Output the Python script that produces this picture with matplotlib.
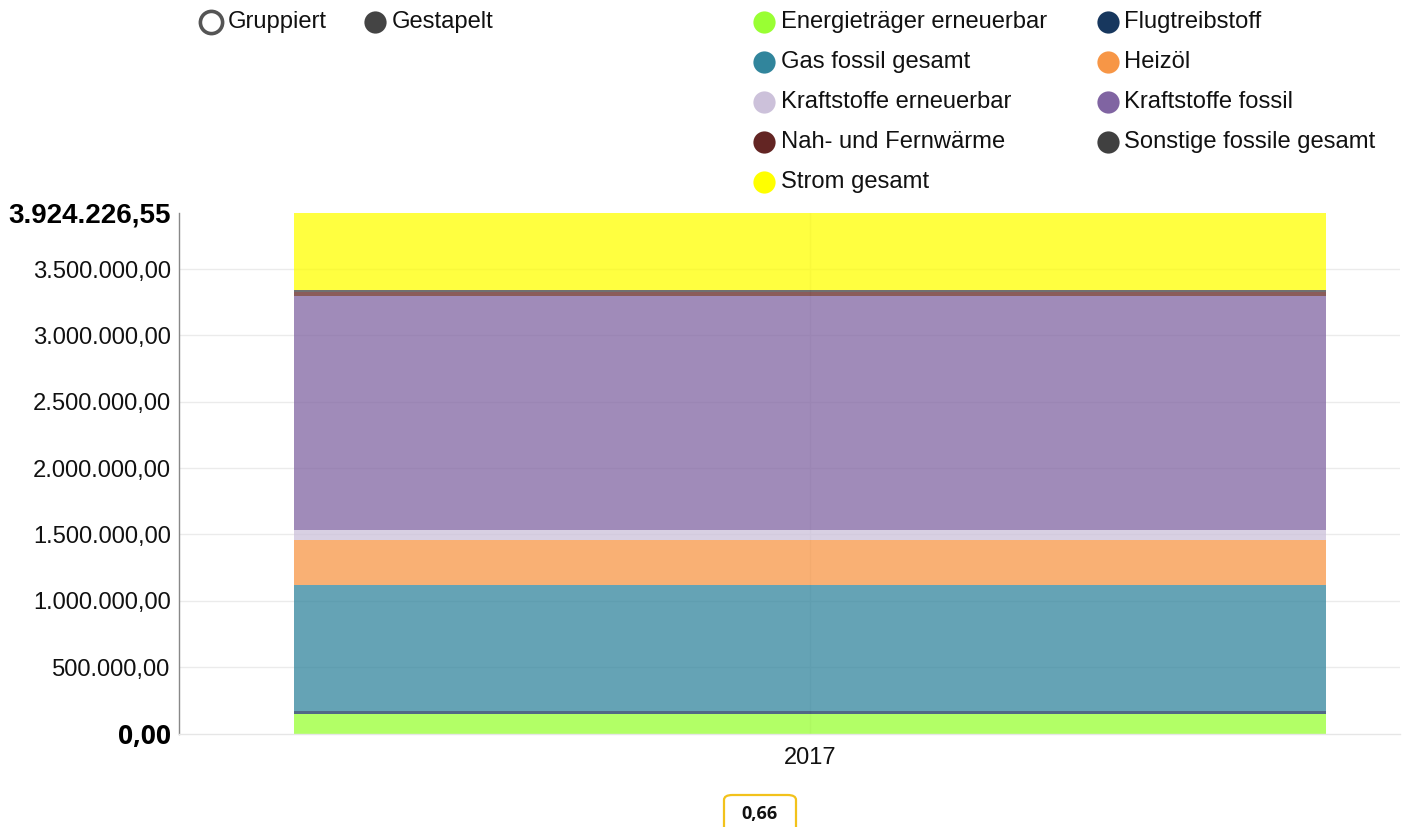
import matplotlib
matplotlib.use("Agg")
import matplotlib.pyplot as plt
from matplotlib.lines import Line2D
from matplotlib.patches import FancyBboxPatch

# ---------------- data ----------------
year_label = "2017"
series_names = [
    "Energieträger erneuerbar",
    "Flugtreibstoff",
    "Gas fossil gesamt",
    "Heizöl",
    "Kraftstoffe erneuerbar",
    "Kraftstoffe fossil",
    "Nah- und Fernwärme",
    "Sonstige fossile gesamt",
    "Strom gesamt",
]
series_values = [147000, 19000, 954000, 337000, 78000, 1765000, 25000, 20000, 579226.55]
series_colors = ["#99ff33", "#17375e", "#31859c", "#f79646", "#ccc1da",
                 "#8064a2", "#632523", "#404040", "#ffff00"]
ytick_values = [0, 500000, 1000000, 1500000, 2000000, 2500000, 3000000, 3500000]
total_value = 3924226.55
badge_text = "0,66"
mode_labels = ["Gruppiert", "Gestapelt"]

W, H = 1410, 827
plt.rcParams['font.family'] = ['Liberation Sans', 'DejaVu Sans']

fig = plt.figure(figsize=(W / 100, H / 100), dpi=100)

def fx(px):
    return px / W

def fy(py):
    return 1 - py / H

# axes placement
ax_left, ax_right, ax_top, ax_bottom = 179, 1400, 212.7, 733.5
ax = fig.add_axes([fx(ax_left), fy(ax_bottom), fx(ax_right - ax_left), (ax_bottom - ax_top) / H])

bar_l, bar_r = 294, 1326
unit = bar_r - bar_l
ax.set_xlim(-0.5 - (bar_l - ax_left) / unit, 0.5 + (ax_right - bar_r) / unit)
ax.set_ylim(0, total_value)

# grid
for v in ytick_values[1:]:
    ax.axhline(v, color="#ebebeb", lw=1, zorder=0)
ax.axvline(0, color="#ebebeb", lw=1, zorder=0)

bottom = 0
for name, val, col in zip(series_names, series_values, series_colors):
    ax.bar([0], [val], bottom=bottom, width=1.0, color=col, alpha=0.75,
           linewidth=0, zorder=2)
    bottom += val

def de_fmt(v):
    s = f"{v:,.2f}"
    return s.replace(",", "X").replace(".", ",").replace("X", ".")

ticks = ytick_values + [total_value]
ax.set_yticks(ticks)
ax.set_yticklabels([de_fmt(v) for v in ticks])
ax.tick_params(axis='y', length=0, pad=6, labelsize=17.1, colors="#111111")
labels = ax.get_yticklabels()
labels[0].set_fontfamily(['Open Sans', 'DejaVu Sans'])
labels[0].set_fontweight('bold')
labels[0].set_fontsize(19)
labels[-1].set_fontweight('bold')
labels[-1].set_fontsize(20)
labels[0].set_color("black")
labels[-1].set_color("black")

ax.set_xticks([0])
ax.set_xticklabels([year_label])
ax.tick_params(axis='x', length=0, pad=10, labelsize=17, colors="#111111")

for sp in ["top", "right"]:
    ax.spines[sp].set_visible(False)
ax.spines["left"].set_color("#888888")
ax.spines["left"].set_linewidth(1)
ax.spines["bottom"].set_color("#e6e6e6")
ax.spines["bottom"].set_linewidth(1)

# ---------------- legend ----------------
def marker(px, py, face, edge=None, ew=0):
    fig.add_artist(Line2D([fx(px)], [fy(py)], marker='o', markersize=16,
                          markerfacecolor=face,
                          markeredgecolor=edge if edge else face,
                          markeredgewidth=ew, linestyle='none',
                          transform=fig.transFigure))

def label(px, py, s):
    fig.text(fx(px), fy(py), s, fontsize=17.1, ha='left', va='center',
             color="#111111")

# mode toggles
marker(211, 22, "white", "#555555", 2.6)
label(228, 22, mode_labels[0])
marker(375, 22, "#444444")
label(392, 22, mode_labels[1])

col_x = [(764, 781), (1108, 1124)]
row_y = [22, 62, 102, 142, 182]
for i, (name, col) in enumerate(zip(series_names, series_colors)):
    r, c = divmod(i, 2)
    mx, tx = col_x[c]
    marker(mx, row_y[r], col)
    label(tx, row_y[r], name)

# badge at bottom
badge = FancyBboxPatch((fx(724), fy(840)), fx(72), (840 - 795) / H,
                       boxstyle="round,pad=0,rounding_size=0.006",
                       transform=fig.transFigure, facecolor="white",
                       edgecolor="#f2c21b", linewidth=1.6, clip_on=False)
fig.add_artist(badge)
fig.text(fx(760), fy(814), badge_text, fontsize=13, fontweight='bold',
         family=['Open Sans', 'DejaVu Sans'], ha='center', va='center',
         color="#111111")

fig.savefig("out.png", dpi=100)
